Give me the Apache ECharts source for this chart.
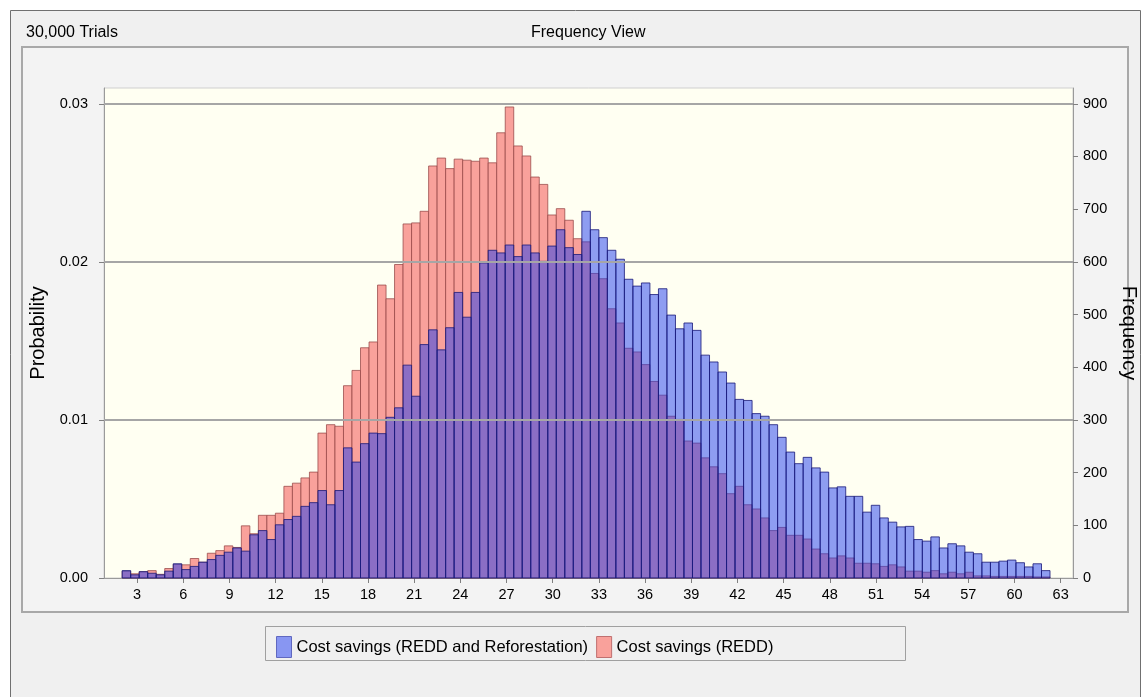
<!DOCTYPE html>
<html lang="en">
<head>
    <meta charset="utf-8"/>
    <title>Frequency View</title>
    <script src="https://cdn.jsdelivr.net/npm/echarts@6/dist/echarts.min.js"></script>
</head>
<body style="margin:0;background:#ffffff;">
<div id="echarts" style="width:1148px;height:697px;"></div>
<script type="text/javascript">
    // histogram bins: start of first bin and width of each bin
    var binStart = 2.03;
    var binWidth = 0.553;

    // frequency per bin (30,000 trials)
    var reddValues = [
        13, 8, 12, 14, 7, 18, 26, 25, 37, 30,
        47, 52, 61, 58, 99, 84, 119, 119, 123, 174,
        180, 190, 201, 275, 291, 288, 365, 394, 437, 448,
        556, 530, 595, 672, 674, 696, 782, 797, 777, 795,
        793, 791, 797, 788, 845, 894, 820, 801, 761, 747,
        689, 701, 679, 644, 638, 578, 568, 511, 484, 436,
        429, 405, 373, 347, 307, 301, 260, 256, 228, 211,
        198, 160, 174, 139, 131, 114, 90, 96, 81, 81,
        74, 55, 46, 38, 42, 38, 28, 28, 27, 22,
        25, 21, 13, 13, 11, 14, 8, 11, 8, 11,
        4, 4, 3, 3, 3, 3, 3, 2, 2
    ];
    var reforestValues = [
        14, 6, 12, 9, 6, 13, 27, 16, 22, 30,
        35, 43, 49, 57, 51, 82, 90, 73, 101, 111,
        117, 136, 143, 166, 139, 166, 247, 220, 255, 275,
        274, 305, 323, 404, 345, 443, 471, 433, 475, 542,
        495, 542, 598, 622, 617, 632, 610, 632, 617, 601,
        630, 661, 627, 614, 696, 661, 646, 622, 605, 567,
        554, 560, 538, 549, 499, 473, 484, 470, 423, 410,
        391, 370, 339, 337, 312, 307, 291, 267, 239, 217,
        229, 209, 201, 171, 173, 155, 155, 125, 138, 114,
        106, 97, 98, 73, 70, 78, 57, 65, 61, 49,
        46, 30, 30, 32, 34, 29, 21, 27, 14
    ];

    var xTicks = [3, 6, 9, 12, 15, 18, 21, 24, 27, 30, 33, 36, 39, 42, 45, 48, 51, 54, 57, 60, 63];
    var probTicks = [0, 0.01, 0.02, 0.03];
    var freqTicks = [0, 100, 200, 300, 400, 500, 600, 700, 800, 900];

    var seriesNames = ['Cost savings (REDD and Reforestation)', 'Cost savings (REDD)'];

    function toBins(values) {
        var out = [];
        for (var i = 0; i < values.length; i++) {
            var x0 = binStart + i * binWidth;
            out.push([x0, x0 + binWidth, values[i]]);
        }
        return out;
    }

    function barRenderer(fill, stroke) {
        return function (params, api) {
            var top = api.coord([api.value(0), api.value(2)]);
            var bottom = api.coord([api.value(1), 0]);
            return {
                type: 'rect',
                shape: {x: top[0], y: top[1], width: bottom[0] - top[0], height: bottom[1] - top[1]},
                style: {fill: fill, stroke: stroke, lineWidth: 1}
            };
        };
    }

    var font = 'Liberation Sans, Arial, sans-serif';
    var myChart = echarts.init(document.getElementById('echarts'));
    var option = {
        animation: false,
        backgroundColor: '#ffffff',
        textStyle: {fontFamily: font},
        title: [
            {text: '30,000 Trials', left: 21, top: 20, textStyle: {fontSize: 16, fontWeight: 'normal', color: '#000'}},
            {text: 'Frequency View', left: 526, top: 20, textStyle: {fontSize: 16, fontWeight: 'normal', color: '#000'}}
        ],
        // window frame, inner panel and legend box
        graphic: [
            {type: 'rect', z: -10, shape: {x: 10.5, y: 10.5, width: 1130, height: 700}, style: {fill: '#f0f0f0', stroke: '#707070', lineWidth: 1}},
            {type: 'rect', z: -9, shape: {x: 22, y: 47, width: 1106, height: 565}, style: {fill: '#f3f3f3', stroke: '#a8a8a8', lineWidth: 2}},
            {type: 'rect', z: -9, shape: {x: 265.5, y: 626.5, width: 640, height: 34}, style: {fill: '#f0f0f0', stroke: '#a0a0a0', lineWidth: 1}}
        ],
        legend: {
            left: 271,
            top: 631,
            itemWidth: 15,
            itemHeight: 21,
            itemGap: 8,
            icon: 'rect',
            selectedMode: false,
            textStyle: {fontSize: 16.5, color: '#000', fontFamily: font},
            data: [
                {name: seriesNames[0], itemStyle: {color: '#8896f2', borderColor: '#6068c0', borderWidth: 1}},
                {name: seriesNames[1], itemStyle: {color: '#f9a19b', borderColor: '#c07070', borderWidth: 1}}
            ]
        },
        grid: {
            left: 104,
            right: 75,
            top: 88,
            bottom: 119,
            outerBoundsMode: 'none',
            show: true,
            backgroundColor: '#fffff2',
            borderColor: '#cfcfcf',
            borderWidth: 1
        },
        xAxis: {
            type: 'value',
            min: 0.85,
            max: 63.8,
            axisLine: {show: true, lineStyle: {color: '#9a9a9a', width: 1}},
            axisTick: {show: true, customValues: xTicks, length: 5, lineStyle: {color: '#808080'}},
            axisLabel: {customValues: xTicks, fontSize: 14.5, color: '#000', margin: 9},
            splitLine: {show: false}
        },
        yAxis: [
            {
                type: 'value',
                name: 'Probability',
                nameLocation: 'middle',
                nameGap: 55,
                nameRotate: 90,
                nameTextStyle: {fontSize: 20, color: '#000'},
                min: 0,
                max: 0.031,
                axisLine: {show: true, lineStyle: {color: '#9a9a9a'}},
                axisTick: {show: true, customValues: probTicks, length: 5, lineStyle: {color: '#808080'}},
                axisLabel: {
                    customValues: probTicks, fontSize: 14.5, color: '#000', margin: 16,
                    formatter: function (v) { return v.toFixed(2); }
                },
                splitLine: {show: false}
            },
            {
                type: 'value',
                name: 'Frequency',
                nameLocation: 'middle',
                nameGap: 46,
                nameRotate: -90,
                nameTextStyle: {fontSize: 20, color: '#000'},
                min: 0,
                max: 930,
                interval: 100,
                axisLine: {show: true, lineStyle: {color: '#9a9a9a'}},
                axisTick: {show: true, customValues: freqTicks, length: 5, lineStyle: {color: '#808080'}},
                axisLabel: {customValues: freqTicks, fontSize: 14.5, color: '#000', margin: 10},
                splitLine: {show: false}
            }
        ],
        series: [
            {
                // gridlines at 0.01 / 0.02 / 0.03
                type: 'line',
                yAxisIndex: 0,
                silent: true,
                data: [],
                markLine: {
                    silent: true,
                    symbol: 'none',
                    label: {show: false},
                    lineStyle: {color: '#a6a6a6', width: 2, type: 'solid'},
                    data: probTicks.slice(1).map(function (v) { return {yAxis: v}; })
                }
            },
            {
                name: seriesNames[1],
                type: 'custom',
                yAxisIndex: 1,
                renderItem: barRenderer('#f9a19b', 'rgba(150,70,70,0.75)'),
                encode: {x: [0, 1], y: 2},
                itemStyle: {color: '#f9a19b'},
                data: toBins(reddValues)
            },
            {
                name: seriesNames[0],
                type: 'custom',
                yAxisIndex: 1,
                renderItem: barRenderer('rgba(30,60,240,0.5)', 'rgba(25,25,120,0.8)'),
                encode: {x: [0, 1], y: 2},
                itemStyle: {color: '#8896f2'},
                data: toBins(reforestValues)
            }
        ]
    };
    myChart.setOption(option);
</script>
</body>
</html>
